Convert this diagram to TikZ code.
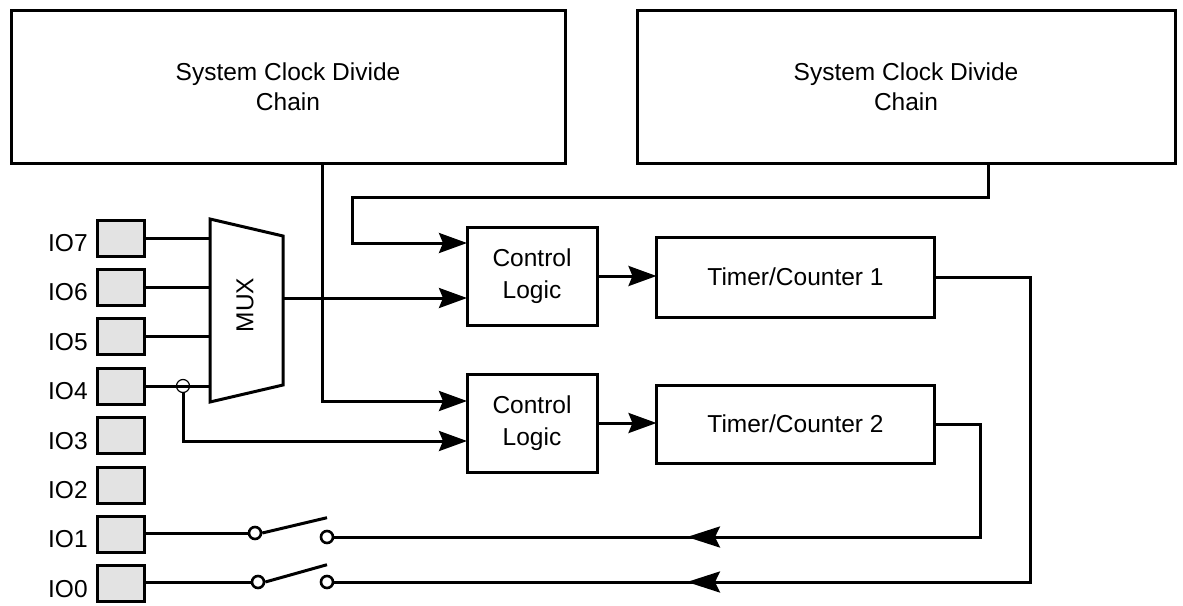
\documentclass[tikz,border=0pt]{standalone}
\usepackage{fontspec}
\setmainfont{Liberation Sans}
\usetikzlibrary{positioning,arrows.meta,decorations.markings}

\begin{document}
\begin{tikzpicture}[x=1pt, y=-1pt, line width=3pt,
    font=\fontsize{24.5}{30}\selectfont,
    block/.style={draw, rectangle, inner sep=0pt, outer sep=0pt, align=center},
    pad/.style={draw, rectangle, fill=black!11, minimum width=47pt, minimum height=36pt, inner sep=0pt},
    contact/.style={draw, circle, fill=white, minimum size=12pt, inner sep=0pt, line width=2.6pt},
    arr/.style={-{Stealth[length=28pt,width=20pt,inset=4pt]}},
    midarr/.style={postaction={decorate}, decoration={markings,
        mark=at position #1 with {\arrow{Stealth[length=33pt,width=21pt,inset=5pt]}}}}]
    \useasboundingbox (0,0) rectangle (1183,605);

    % Clock divide chains
    \node[block, minimum width=554pt, minimum height=153pt] (clkA) at (288,86.5) {System Clock Divide\\Chain};
    \node[block, minimum width=538pt, minimum height=153pt] (clkB) at (906,86.5) {System Clock Divide\\Chain};

    % Control logic
    \node[block, minimum width=130pt, minimum height=98pt] (ctlA) at (532,276) {Control\\[2pt]Logic};
    \node[block, minimum width=130pt, minimum height=98pt] (ctlB) at (532,423) {Control\\[2pt]Logic};

    % Timer/Counters
    \node[block, minimum width=278pt, minimum height=80pt] (tmrA) at (795.5,277) {Timer/Counter 1};
    \node[block, minimum width=278pt, minimum height=78pt] (tmrB) at (795.5,424) {Timer/Counter 2};

    % IO pads
    \foreach \i in {0,...,7} {
        \node[pad] (io\i) at (120.5,{583.8-49.4*\i}) {};
        \node[left=3pt of io\i, yshift=-5pt] (lbl\i) {IO\i};
    }

    % MUX
    \draw (210,219) -- (283,236) -- (283,385) -- (210,402) -- cycle;
    \node[rotate=90] (muxlbl) at (245,305) {MUX};
    \coordinate (muxin) at (210,0);
    \coordinate (muxout) at (283,298);
    \foreach \i in {4,...,7}
        \draw (io\i.east) -- (io\i.east -| muxin);

    % IO4 tap
    \node[draw, circle, minimum size=13pt, inner sep=0pt, line width=1.2pt] (tap) at (183,386) {};

    % Connections
    \draw[arr] (muxout) -- (muxout -| ctlA.west);
    \coordinate (feed) at (352,197);
    \draw[arr] ([xshift=82pt]clkB.south) |- (feed) |- ([yshift=33pt]ctlA.west);
    \draw[arr] ([xshift=34pt]clkA.south) |- ([yshift=22pt]ctlB.west);
    \draw[arr] (tap.south) |- ([yshift=-18pt]ctlB.west);
    \draw[arr] (ctlA.east) -- (ctlA.east -| tmrA.west);
    \draw[arr] (ctlB.east) -- (ctlB.east -| tmrB.west);

    % Switches
    \node[contact] (sw1a) at (255,533) {};
    \node[contact] (sw1b) at (327,537) {};
    \node[contact] (sw0a) at (258,582) {};
    \node[contact] (sw0b) at (327,582) {};
    \draw (sw1a.west -| io1.east) -- (sw1a.west);
    \draw (sw0a.west -| io0.east) -- (sw0a.west);
    \draw (sw1a.east) -- ([yshift=12pt]sw1b.north);
    \draw (sw0a.east) -- ([yshift=10pt]sw0b.north);

    % Timer outputs back to the pins
    \draw[midarr=451.5pt] (tmrB.east) -- ++(45.5,0) |- (sw1b.east);
    \draw[midarr=743.5pt] (tmrA.east) -- ++(95.5,0) |- (sw0b.east);

\end{tikzpicture}
\end{document}
